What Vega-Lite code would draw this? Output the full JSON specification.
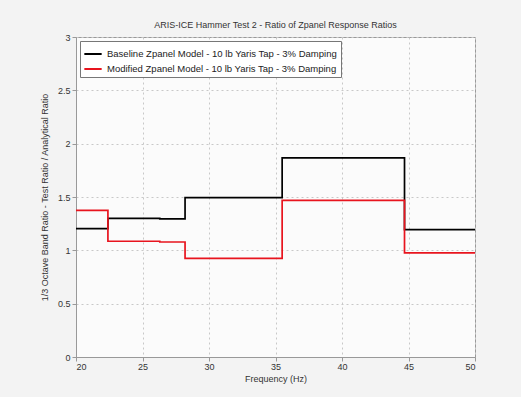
{
  "$schema": "https://vega.github.io/schema/vega-lite/v6.json",
  "width": 399,
  "height": 320,
  "autosize": {"type": "none"},
  "padding": {"left": 76, "top": 37, "right": 46, "bottom": 40},
  "background": "#f3f3f3",
  "title": {"text": "ARIS-ICE Hammer Test 2 - Ratio of Zpanel Response Ratios", "fontSize": 9, "font": "Liberation Sans", "fontWeight": "normal", "color": "#333", "offset": 3},
  "config": {
    "view": {"fill": "#fbfbfb", "stroke": "#999", "strokeWidth": 1},
    "axis": {"labelFont": "Liberation Sans", "titleFont": "Liberation Sans", "labelFontSize": 9, "titleFontSize": 9, "titleFontWeight": "normal", "labelColor": "#333", "titleColor": "#333", "gridColor": "#c8c8c8", "gridDash": [2, 3], "gridWidth": 1, "domainColor": "#999", "tickColor": "#999", "tickSize": 4}
  },
  "data": {"values": [
    {"f": 20, "r": 1.203, "s": "Baseline Zpanel Model - 10 lb Yaris Tap - 3% Damping"},
    {"f": 22.4, "r": 1.30, "s": "Baseline Zpanel Model - 10 lb Yaris Tap - 3% Damping"},
    {"f": 26.3, "r": 1.294, "s": "Baseline Zpanel Model - 10 lb Yaris Tap - 3% Damping"},
    {"f": 28.2, "r": 1.494, "s": "Baseline Zpanel Model - 10 lb Yaris Tap - 3% Damping"},
    {"f": 35.5, "r": 1.866, "s": "Baseline Zpanel Model - 10 lb Yaris Tap - 3% Damping"},
    {"f": 44.7, "r": 1.194, "s": "Baseline Zpanel Model - 10 lb Yaris Tap - 3% Damping"},
    {"f": 50, "r": 1.194, "s": "Baseline Zpanel Model - 10 lb Yaris Tap - 3% Damping"},
    {"f": 20, "r": 1.375, "s": "Modified Zpanel Model - 10 lb Yaris Tap - 3% Damping"},
    {"f": 22.4, "r": 1.085, "s": "Modified Zpanel Model - 10 lb Yaris Tap - 3% Damping"},
    {"f": 26.3, "r": 1.078, "s": "Modified Zpanel Model - 10 lb Yaris Tap - 3% Damping"},
    {"f": 28.2, "r": 0.925, "s": "Modified Zpanel Model - 10 lb Yaris Tap - 3% Damping"},
    {"f": 35.5, "r": 1.469, "s": "Modified Zpanel Model - 10 lb Yaris Tap - 3% Damping"},
    {"f": 44.7, "r": 0.976, "s": "Modified Zpanel Model - 10 lb Yaris Tap - 3% Damping"},
    {"f": 50, "r": 0.976, "s": "Modified Zpanel Model - 10 lb Yaris Tap - 3% Damping"}
  ]},
  "mark": {"type": "line", "interpolate": "step-after", "strokeWidth": 1.7},
  "encoding": {
    "x": {"field": "f", "type": "quantitative", "title": "Frequency (Hz)", "scale": {"domain": [20, 50], "nice": false},
      "axis": {"values": [20, 25, 30, 35, 40, 45, 50], "titlePadding": 3, "labelPadding": 1}},
    "y": {"field": "r", "type": "quantitative", "title": "1/3 Octave Band Ratio - Test Ratio / Analytical Ratio", "scale": {"domain": [0, 3], "nice": false},
      "axis": {"values": [0, 0.5, 1, 1.5, 2, 2.5, 3], "format": "~g", "titlePadding": 8, "labelPadding": 2}},
    "color": {"field": "s", "type": "nominal", "title": null,
      "scale": {"domain": ["Baseline Zpanel Model - 10 lb Yaris Tap - 3% Damping", "Modified Zpanel Model - 10 lb Yaris Tap - 3% Damping"], "range": ["#000000", "#e8141e"]},
      "legend": {"orient": "top-left", "offset": 4, "symbolType": "stroke", "symbolSize": 300, "symbolStrokeWidth": 2, "labelFont": "Liberation Sans", "labelFontSize": 9.5, "labelColor": "#222", "fillColor": "#ffffff", "strokeColor": "#777", "padding": 3, "rowPadding": 0, "labelLimit": 400}}
  }
}
